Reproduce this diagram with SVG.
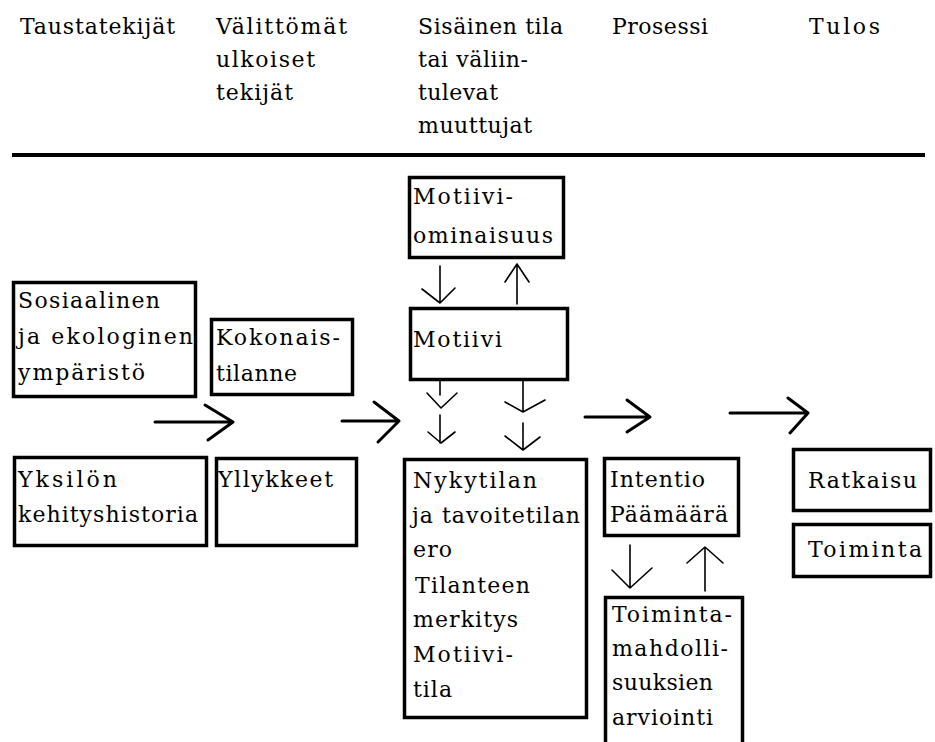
<svg xmlns="http://www.w3.org/2000/svg" width="935" height="742" viewBox="0 0 935 742">
<style>
text{font-family:"DejaVu Serif","Liberation Serif",serif;font-size:22px;fill:#000}
.box{fill:#fff;stroke:#000;stroke-width:3.5}
.big{fill:none;stroke:#000;stroke-width:3;stroke-linecap:round;stroke-linejoin:round}
.sm{fill:none;stroke:#000;stroke-width:1.6;stroke-linecap:round;stroke-linejoin:round}
</style>
<rect width="935" height="742" fill="#fff"/>
<g id="header">
<text x="20" y="34" textLength="155" lengthAdjust="spacing">Taustatekijät</text>
<text x="216" y="34" textLength="131" lengthAdjust="spacing">Välittömät</text>
<text x="216" y="67" textLength="99" lengthAdjust="spacing">ulkoiset</text>
<text x="216" y="100" textLength="77" lengthAdjust="spacing">tekijät</text>
<text x="418" y="34" textLength="145" lengthAdjust="spacing">Sisäinen tila</text>
<text x="418" y="67" textLength="110" lengthAdjust="spacing">tai väliin-</text>
<text x="418" y="100" textLength="80" lengthAdjust="spacing">tulevat</text>
<text x="418" y="133" textLength="114" lengthAdjust="spacing">muuttujat</text>
<text x="612" y="34" textLength="96" lengthAdjust="spacing">Prosessi</text>
<text x="809" y="34" textLength="71" lengthAdjust="spacing">Tulos</text>
<line x1="12" y1="155" x2="925" y2="155" stroke="#000" stroke-width="4"/>
</g>
<g id="sosiaalinen">
<rect class="box" x="13.5" y="282.5" width="182" height="114"/>
<text x="18" y="308" textLength="142" lengthAdjust="spacing">Sosiaalinen</text>
<text x="18" y="344" textLength="175" lengthAdjust="spacing">ja ekologinen</text>
<text x="18" y="380" textLength="127" lengthAdjust="spacing">ympäristö</text>
</g>
<g id="kokonaistilanne">
<rect class="box" x="211.5" y="319.5" width="141" height="75"/>
<text x="216" y="345" textLength="124" lengthAdjust="spacing">Kokonais-</text>
<text x="216" y="381" textLength="81" lengthAdjust="spacing">tilanne</text>
</g>
<g id="yksilon">
<rect class="box" x="14.5" y="457.5" width="192" height="88"/>
<text x="18" y="487" textLength="99" lengthAdjust="spacing">Yksilön</text>
<text x="18" y="522" textLength="180" lengthAdjust="spacing">kehityshistoria</text>
</g>
<g id="yllykkeet">
<rect class="box" x="216.5" y="458.5" width="140" height="87"/>
<text x="218" y="487" textLength="115" lengthAdjust="spacing">Yllykkeet</text>
</g>
<g id="motiiviominaisuus">
<rect class="box" x="409.5" y="177.5" width="154" height="80"/>
<text x="413" y="204" textLength="100" lengthAdjust="spacing">Motiivi-</text>
<text x="413" y="243" textLength="140" lengthAdjust="spacing">ominaisuus</text>
</g>
<g id="motiivi">
<rect class="box" x="410.5" y="308.5" width="157" height="71"/>
<text x="413" y="347" textLength="89" lengthAdjust="spacing">Motiivi</text>
</g>
<g id="nykytilan">
<rect class="box" x="404.5" y="459.5" width="182" height="258"/>
<text x="413" y="488" textLength="124" lengthAdjust="spacing">Nykytilan</text>
<text x="412" y="523" textLength="168" lengthAdjust="spacing">ja tavoitetilan</text>
<text x="413" y="557" textLength="39" lengthAdjust="spacing">ero</text>
<text x="415" y="593" textLength="115" lengthAdjust="spacing">Tilanteen</text>
<text x="413" y="627" textLength="105" lengthAdjust="spacing">merkitys</text>
<text x="413" y="662" textLength="100" lengthAdjust="spacing">Motiivi-</text>
<text x="413" y="697" textLength="39" lengthAdjust="spacing">tila</text>
</g>
<g id="intentio">
<rect class="box" x="604.5" y="458.5" width="134" height="77"/>
<text x="610" y="487" textLength="95" lengthAdjust="spacing">Intentio</text>
<text x="610" y="522" textLength="118" lengthAdjust="spacing">Päämäärä</text>
</g>
<g id="toimintamahdollisuuksien">
<rect class="box" x="605.5" y="597.5" width="137" height="150"/>
<text x="612" y="622" textLength="120" lengthAdjust="spacing">Toiminta-</text>
<text x="612" y="656" textLength="116" lengthAdjust="spacing">mahdolli-</text>
<text x="612" y="690" textLength="101" lengthAdjust="spacing">suuksien</text>
<text x="612" y="725" textLength="101" lengthAdjust="spacing">arviointi</text>
</g>
<g id="ratkaisu">
<rect class="box" x="793.5" y="449.5" width="137" height="61"/>
<text x="808" y="488" textLength="109" lengthAdjust="spacing">Ratkaisu</text>
</g>
<g id="toiminta">
<rect class="box" x="793.5" y="524.5" width="137" height="52"/>
<text x="808" y="557" textLength="114" lengthAdjust="spacing">Toiminta</text>
</g>
<g id="connectors">
<path class="big" d="M155,422H233M205,405L233,422L208,440"/>
<path class="big" d="M342,421H399M374,402L399,421L378,442"/>
<path class="big" d="M585,417H650M627,400L650,417L627,432"/>
<path class="big" d="M730,413H808M788,398L808,413L790,433"/>
<path class="sm" d="M440,266V303M422,289L440,303L455,288"/>
<path class="sm" d="M517,304V264M505,282L517,264L529,282"/>
<path class="sm" d="M440,381V395M427,393L441,408L457,393"/>
<path class="sm" d="M440,415V443M428,432L441,443L455,432"/>
<path class="sm" d="M523,381V412M505,402L523,412L545,400"/>
<path class="sm" d="M523,423V450M505,436L523,450L540,437"/>
<path class="sm" d="M630,545V588M612,570L630,588L652,568"/>
<path class="sm" d="M705,591V547M687,563L705,547L723,563"/>
</g>
</svg>
